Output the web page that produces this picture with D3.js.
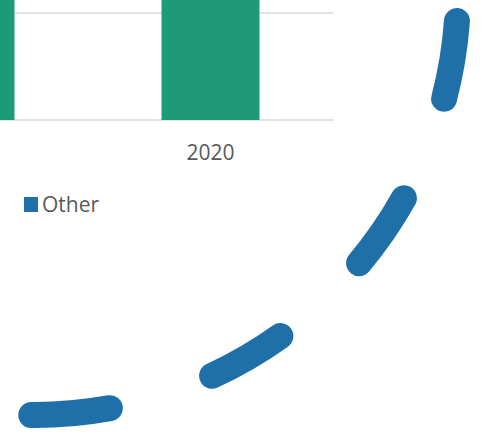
<!DOCTYPE html>
<html lang="en">
<head>
    <meta charset="UTF-8">
    <title>Chart</title>
    <style>
        body { margin: 0; background: #fff; }
        svg { display: block; }
    </style>
</head>
<body>
    <svg id="SVG"></svg>
    <script src="https://d3js.org/d3.v7.min.js"></script>
    <script>
        // data
        var years = ['2019', '2020'];
        var barValues = [34, 31];
        var yTicks = [0, 10, 20, 30];
        var legendNames = ['Other'];
        var otherArc = [4.05, 90.4];   // start / end of the dashed arc, degrees

        var width = 487, height = 434;
        var svg = d3.select('#SVG').attr('width', width).attr('height', height);

        // plot area (left edge lies off the picture)
        var plotLeft = -157, plotRight = 333;
        var baseY = 120, unit = 10.7;

        var x = d3.scaleBand().domain(years).range([plotLeft, plotRight]).paddingInner(0.6).paddingOuter(0.3);
        var y = d3.scaleLinear().domain([0, 10]).range([baseY, baseY - unit * 10]);

        var g = svg.append('g');

        // gridlines
        g.selectAll('.grid')
            .data(yTicks)
            .enter()
            .append('line')
            .attr('x1', plotLeft).attr('x2', plotRight)
            .attr('y1', d => y(d)).attr('y2', d => y(d))
            .attr('stroke', '#d9d9d9')
            .attr('stroke-width', 1.3);

        // bars
        g.selectAll('.bar')
            .data(years)
            .enter()
            .append('rect')
            .attr('x', d => x(d))
            .attr('width', x.bandwidth())
            .attr('y', (d, i) => y(barValues[i]))
            .attr('height', (d, i) => y(0) - y(barValues[i]))
            .attr('fill', '#1f9a78');

        // x axis labels (only the ones whose centre is inside the picture)
        g.selectAll('.xlab')
            .data(years.filter(d => x(d) + x.bandwidth() / 2 > 0))
            .enter()
            .append('text')
            .attr('x', d => x(d) + x.bandwidth() / 2)
            .attr('y', 160)
            .attr('text-anchor', 'middle')
            .attr('font-family', 'Open Sans')
            .attr('font-size', 21)
            .attr('fill', '#595959')
            .text(d => d);

        // legend
        var legend = svg.append('g').attr('transform', 'translate(24,197)');
        legend.selectAll('rect')
            .data(legendNames)
            .enter()
            .append('rect')
            .attr('width', 14).attr('height', 15)
            .attr('fill', '#1f70a9');
        legend.selectAll('text')
            .data(legendNames)
            .enter()
            .append('text')
            .attr('x', 18).attr('y', 15)
            .attr('font-family', 'Open Sans')
            .attr('font-size', 21)
            .attr('fill', '#595959')
            .text(d => d);

        // dashed arc
        var angle = d3.scaleLinear().domain([0, 180]).range([0, Math.PI]);
        var p = d3.path();
        p.arc(34, -9, 424, angle(otherArc[0]), angle(otherArc[1]));
        svg.append('path')
            .attr('d', p.toString())
            .attr('fill', 'none')
            .attr('stroke', '#1f70a9')
            .attr('stroke-width', 26)
            .attr('stroke-linecap', 'round')
            .attr('stroke-dasharray', '79 107.5');
    </script>
</body>
</html>
